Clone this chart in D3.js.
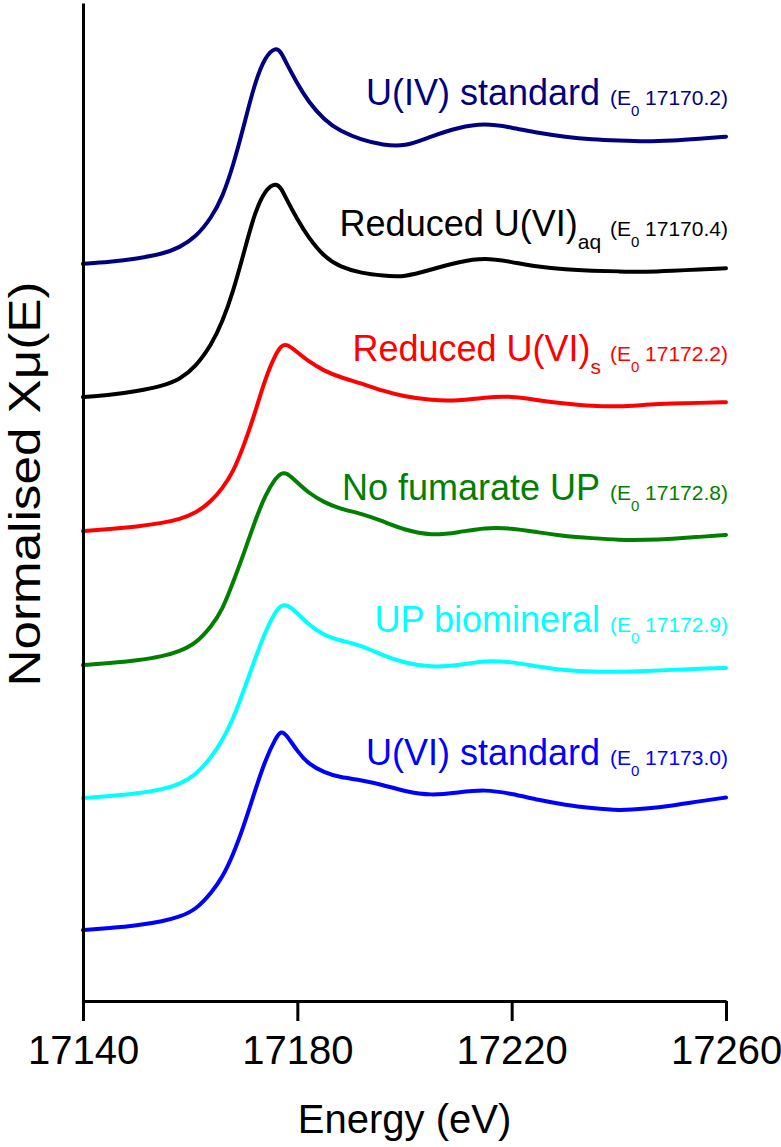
<!DOCTYPE html>
<html>
<head>
<meta charset="utf-8">
<script src="https://cdn.jsdelivr.net/npm/d3@7"></script>
<style>
  html, body { margin: 0; padding: 0; background: #fff; }
  svg { display: block; font-family: "Liberation Sans", Arial, sans-serif; }
</style>
</head>
<body>
<svg id="chart" width="781" height="1147"></svg>
<script>
// ---- data ----
const energy = [17140,17145,17150,17155,17158,17161,17164,17166,17168,17170,17172,17174,17176,17177,17178,17180,17182,17185,17188,17192,17196,17200,17205,17210,17215,17220,17225,17230,17235,17240,17245,17250,17255,17260];

const uIVStandard   = [0,0.015,0.04,0.08,0.13,0.21,0.37,0.53,0.78,1.10,1.44,1.66,1.735,1.69,1.60,1.44,1.30,1.15,1.06,0.99,0.95,0.935,1.02,1.09,1.125,1.09,1.045,1.015,0.995,0.985,0.977,0.985,1.0,1.016];
const reducedUVIaq  = [0,0.015,0.045,0.09,0.14,0.24,0.42,0.6,0.84,1.15,1.47,1.66,1.715,1.67,1.58,1.42,1.28,1.12,1.04,0.99,0.97,0.958,1.02,1.08,1.115,1.08,1.04,1.02,1.01,1.005,1.0,1.01,1.02,1.03];
const reducedUVIs   = [0,0.015,0.035,0.065,0.095,0.14,0.24,0.34,0.47,0.68,0.93,1.22,1.42,1.48,1.50,1.43,1.36,1.28,1.23,1.18,1.12,1.075,1.045,1.04,1.07,1.08,1.045,1.02,1.0,0.995,1.01,1.02,1.025,1.03];
const noFumarateUP  = [0,0.015,0.035,0.07,0.11,0.17,0.31,0.44,0.66,0.89,1.14,1.36,1.50,1.535,1.54,1.46,1.38,1.30,1.25,1.21,1.15,1.08,1.035,1.06,1.10,1.095,1.06,1.03,1.015,1.0,1.0,1.01,1.025,1.04];
const upBiomineral  = [0,0.015,0.035,0.07,0.11,0.18,0.33,0.46,0.63,0.86,1.10,1.33,1.50,1.54,1.55,1.48,1.39,1.30,1.26,1.22,1.14,1.08,1.045,1.06,1.10,1.09,1.05,1.02,1.01,1.01,1.015,1.025,1.035,1.04];
const uVIStandard   = [0,0.015,0.035,0.07,0.105,0.16,0.30,0.42,0.60,0.83,1.10,1.36,1.54,1.595,1.56,1.43,1.33,1.26,1.22,1.2,1.16,1.11,1.075,1.1,1.125,1.09,1.04,1.0,0.975,0.955,0.97,0.995,1.03,1.06];

const seriesValues = [uIVStandard, reducedUVIaq, reducedUVIs, noFumarateUP, upBiomineral, uVIStandard];
const offsets = [5.33, 4.264, 3.192, 2.12, 1.056, 0];
const labelMain = ["U(IV) standard", "Reduced U(VI)", "Reduced U(VI)", "No fumarate UP", "UP biomineral", "U(VI) standard"];
const labelSub  = ["", "aq", "s", "", "", ""];
const e0Values  = ["17170.2", "17170.4", "17172.2", "17172.8", "17172.9", "17173.0"];
const colors    = ["#000080", "#000000", "#ff0000", "#007f00", "#00ffff", "#0000ff"];
const xTicks = [17140, 17180, 17220, 17260];

// ---- layout ----
const svg = d3.select("#chart");
const plotLeft = 83, plotRight = 726, plotTop = 3, plotBottom = 1001;
const x = d3.scaleLinear().domain([17140, 17260]).range([plotLeft, plotRight]);
const y = d3.scaleLinear().domain([-0.568, 7.416]).range([plotBottom, plotTop]);

// curves
const line = d3.line()
  .x(d => x(d[0]))
  .y(d => y(d[1]))
  .curve(d3.curveBasis);

seriesValues.forEach((vals, i) => {
  const pts = energy.map((e, k) => [e, vals[k] + offsets[i]]);
  svg.append("path")
    .attr("d", line(pts))
    .attr("fill", "none")
    .attr("stroke", colors[i])
    .attr("stroke-width", 4)
    .attr("stroke-linejoin", "round")
    .attr("stroke-linecap", "round");
});

// labels
const labelBaselines = [105, 236, 361, 500, 632, 765];
seriesValues.forEach((vals, i) => {
  const t = svg.append("text")
    .attr("x", 728)
    .attr("y", labelBaselines[i])
    .attr("text-anchor", "end")
    .attr("fill", colors[i]);
  t.append("tspan").attr("font-size", 36).text(labelMain[i]);
  if (labelSub[i]) {
    t.append("tspan").attr("font-size", 21).attr("dy", 13).text(labelSub[i]);
    t.append("tspan").attr("font-size", 21).attr("dy", -13).attr("dx", 3).text(" (E");
  } else {
    t.append("tspan").attr("font-size", 21).attr("dx", 4).text(" (E");
  }
  t.append("tspan").attr("font-size", 15).attr("dy", 11).text("0");
  t.append("tspan").attr("font-size", 21).attr("dy", -11).text(" " + e0Values[i] + ")");
});

// axes
const xAxis = d3.axisBottom(x).tickValues(xTicks).tickSize(20).tickSizeOuter(0).tickPadding(15).tickFormat(d3.format("d"));
const gx = svg.append("g").attr("transform", `translate(0,${plotBottom})`).call(xAxis);
gx.select(".domain").attr("stroke", "#000").attr("stroke-width", 3);
gx.selectAll(".tick line").attr("stroke", "#000").attr("stroke-width", 3);
gx.selectAll(".tick text").attr("font-size", 40).attr("font-family", "Liberation Sans, Arial, sans-serif").attr("fill", "#000");

const yAxis = d3.axisLeft(y).tickValues([]).tickSizeOuter(0);
const gy = svg.append("g").attr("transform", `translate(${plotLeft},0)`).call(yAxis);
gy.select(".domain").attr("stroke", "#000").attr("stroke-width", 3);

// axis titles
svg.append("text")
  .attr("x", (plotLeft + plotRight) / 2)
  .attr("y", 1133)
  .attr("text-anchor", "middle")
  .attr("font-size", 40)
  .text("Energy (eV)");

svg.append("text")
  .attr("transform", `translate(40,484) rotate(-90)`)
  .attr("text-anchor", "middle")
  .attr("font-size", 44)
  .attr("textLength", 405)
  .attr("lengthAdjust", "spacingAndGlyphs")
  .text("Normalised Xμ(E)");
</script>
</body>
</html>
